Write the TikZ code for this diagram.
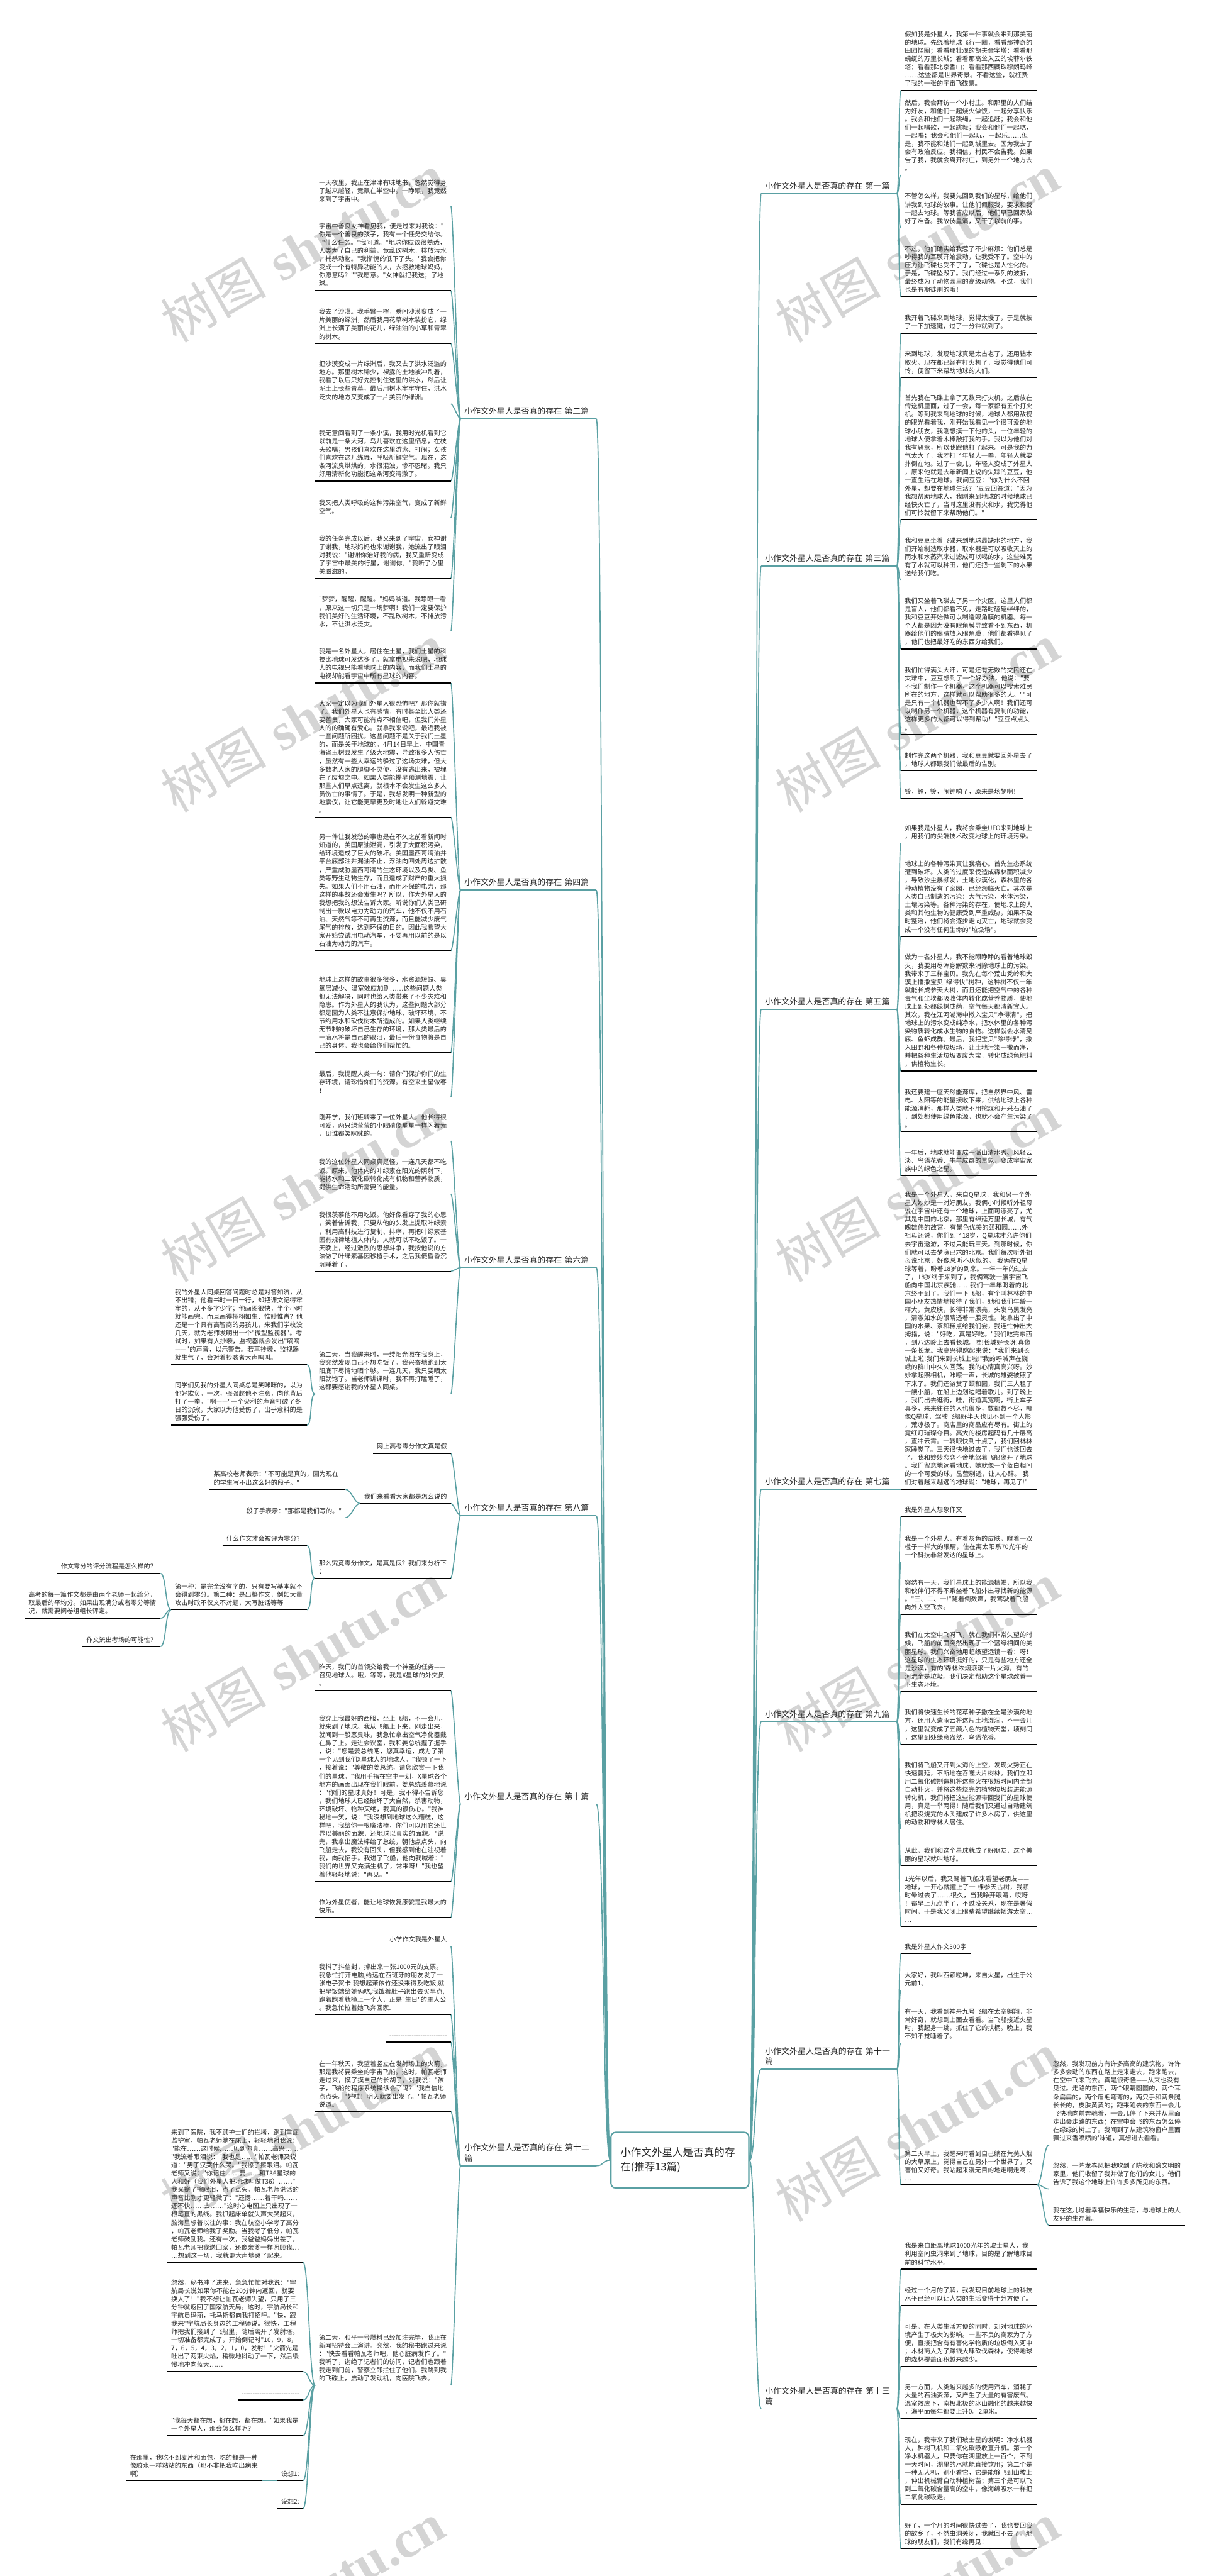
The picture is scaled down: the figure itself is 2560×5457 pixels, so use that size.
\documentclass[tikz,border=0pt]{standalone}
\usepackage{fontspec}
\newfontfamily\cjk{Noto Sans CJK SC}
\newfontfamily\wmfont{Liberation Serif}
\XeTeXinterchartokenstate=1
\newXeTeXintercharclass\hanclass
\newcount\hanpos
\hanpos="2E80
\loop
  \XeTeXcharclass\hanpos=\hanclass
  \ifnum\hanpos<"9FFF \advance\hanpos by 1
\repeat
\hanpos="FF00
\loop
  \XeTeXcharclass\hanpos=\hanclass
  \ifnum\hanpos<"FFEF \advance\hanpos by 1
\repeat
\XeTeXcharclass"2014=\hanclass
\XeTeXcharclass"2026=\hanclass
\XeTeXinterchartoks\hanclass\hanclass={\hskip0pt plus 0.2pt\relax}
\XeTeXinterchartoks 0 \hanclass={\hskip0pt plus 0.2pt\relax}
\XeTeXinterchartoks\hanclass 0 ={\hskip0pt plus 0.2pt\relax}
\definecolor{linkteal}{HTML}{5AA0A3}
\definecolor{inkgray}{HTML}{262626}
\newcommand{\leaffont}{\cjk\fontsize{6.75pt}{8.7pt}\selectfont}
\newcommand{\branchfont}{\cjk\fontsize{8.6pt}{11pt}\selectfont}
\newcommand{\hubfont}{\cjk\fontsize{11pt}{15pt}\selectfont}
\newcommand{\dashrow}{-{}-{}-{}-{}-{}-{}-{}-{}-{}-{}-{}-{}-{}-{}-{}-{}-{}-{}-{}-{}-{}-{}-{}-{}-{}-}
\tikzset{
  leaf/.style={anchor=south west, text width=135.5pt, align=left, inner xsep=4pt, inner ysep=4pt, font=\leaffont, text=inkgray},
  leafl/.style={leaf, anchor=south east},
  tag/.style={anchor=south west, align=left, inner xsep=4pt, inner ysep=4pt, font=\leaffont, text=inkgray},
  tagl/.style={tag, anchor=south east},
  branch/.style={anchor=south west, text width=135.5pt, align=left, inner xsep=4pt, inner ysep=4pt, font=\branchfont, text=inkgray},
  branchl/.style={branch, anchor=south east},
  hub/.style={draw=linkteal, line width=1.4pt, rounded corners=5pt, fill=white, text width=126pt, minimum height=59pt, align=left, inner xsep=10pt, font=\hubfont, text=inkgray},
  uline/.style={line width=0.9pt, black},
  bline/.style={line width=1.1pt, linkteal},
  link/.style={line width=1.1pt, linkteal},
  wmark/.style={rotate=30, text=black!17, font=\fontsize{56pt}{56pt}\selectfont}
}

\begin{document}
\begin{tikzpicture}[x=0.5pt,y=-0.5pt]
\useasboundingbox (0,0) rectangle (2560,5457);
\fill[white] (0,0) rectangle (2560,5457);
\foreach \wy in {525,1520,...,5500} {
  \node[wmark] at (641,\wy) {{\cjk 树图} {\wmfont\bfseries shutu.cn}};
  \node[wmark] at (1942,\wy) {{\cjk 树图} {\wmfont\bfseries shutu.cn}};
}

\node[hub] (hub) at (1440,4576) {小作文外星人是否真的存在(推荐13篇)};

\node[branch] (p1) at (1612,410) {小作文外星人是否真的存在 第一篇};
\node[leaf] (p1-1) at (1908,191.5) {假如我是外星人，我第一件事就会来到那美丽的地球。先绕着地球飞行一圈，看看那神奇的田园怪圈；看看那壮观的胡夫金字塔；看看那蜿蜒的万里长城；看看那高耸入云的埃菲尔铁塔；看看那北京香山；看看那西藏珠穆朗玛峰……这些都是世界奇景。不看这些，就枉费了我的一张的宇宙飞碟票。};
\node[leaf] (p1-2) at (1908,371) {然后，我会拜访一个小村庄。和那里的人们结为好友，和他们一起烧火做饭，一起分享快乐。我会和他们一起跳绳，一起追赶；我会和他们一起唱歌，一起跳舞；我会和他们一起吃，一起喝；我会和他们一起玩，一起乐……但是，我不能和她们一起到城里去。因为我去了会有政治反应。我相信，村民不会告我。如果告了我，我就会离开村庄，到另外一个地方去。};
\node[leaf] (p1-3) at (1908,483) {不管怎么样，我要先回到我们的星球，给他们讲我到地球的故事。让他们佩服我，要求和我一起去地球。等我答应以后，他们早已回家做好了准备。我故伎重演，又干了以前的事。};
\node[leaf] (p1-4) at (1908,628.5) {不过，他们确实给我惹了不少麻烦：他们总是吵得我的耳膜开始震动，让我受不了。空中的压力让飞碟也受不了了，飞碟也是人性化的。于是，飞碟坠毁了。我们经过一系列的波折，最终成为了动物园里的高级动物。不过，我们也是有期徒刑的哦！};

\node[branch] (p3) at (1612,1199) {小作文外星人是否真的存在 第三篇};
\node[leaf] (p3-1) at (1908,706) {我开着飞碟来到地球，觉得太慢了，于是就按了一下加速键，过了一分钟就到了。};
\node[leaf] (p3-2) at (1908,800) {来到地球，发现地球真是太古老了，还用钻木取火。现在都已经有打火机了，我觉得他们可怜，便留下来帮助地球的人们。};
\node[leaf] (p3-3) at (1908,1101.5) {首先我在飞碟上拿了无数只打火机，之后放在传送机里面，过了一会，每一家都有五个打火机。等到我来到地球的时候，地球人都用敌视的眼光看着我，刚开始我看见一个很可爱的地球小朋友，我刚想摸一下他的头，一位年轻的地球人便拿着木棒敲打我的手。我以为他们对我有恶意，所以我跟他打了起来。可是我的力气太大了，我才打了年轻人一拳，年轻人就要扑倒在地。过了一会儿，年轻人变成了外星人，原来他就是去年新闻上说的失踪的豆豆，他一直生活在地球。我问豆豆："你为什么不回外星，却要在地球生活？"豆豆回答道："因为我想帮助地球人，我刚来到地球的时候地球已经快灭亡了，当时这里没有火和水，我觉得他们可怜就留下来帮助他们。"};
\node[leaf] (p3-4) at (1908,1229) {我和豆豆坐着飞碟来到地球最缺水的地方，我们开始制造取水器，取水器是可以吸收天上的雨水和水蒸汽来过滤成可以喝的水，这些难民有了水就可以种田，他们还把一些剩下的水果送给我们吃。};
\node[leaf] (p3-5) at (1908,1375) {我们又坐着飞碟去了另一个灾区，这里人们都是盲人，他们都看不见，走路时磕磕绊绊的，我和豆豆开始做可以制造眼角膜的机器。每一个人都是因为没有眼角膜导致看不到东西，机器给他们的眼睛放入眼角膜，他们都看得见了，他们也把最好吃的东西分给我们。};
\node[leaf] (p3-6) at (1908,1556) {我们忙得满头大汗，可是还有无数的灾民还在灾难中，豆豆想到了一个好办法，他说："要不我们制作一个机器，这个机器可以搜索难民所在的地方，这样就可以帮助很多的人。""可是只有一个机器也帮不了多少人啊！我们还可以制作另一个机器，这个机器有复制的功能，这样更多的人都可以得到帮助！"豆豆点点头。};
\node[leaf] (p3-7) at (1908,1633) {制作完这两个机器，我和豆豆就要回外星去了，地球人都跟我们做最后的告别。};
\node[tag] (p3-8) at (1908,1692) {铃，铃，铃，闹钟响了，原来是场梦啊！};

\node[branch] (p5) at (1612,2138.5) {小作文外星人是否真的存在 第五篇};
\node[leaf] (p5-1) at (1908,1786) {如果我是外星人，我将会乘坐UFO来到地球上，用我们的尖端技术改变地球上的环境污染。};
\node[leaf] (p5-2) at (1908,1984) {地球上的各种污染真让我痛心。首先生态系统遭到破坏。人类的过度采伐造成森林面积减少，导致沙尘暴频发，土地沙漠化，森林里的各种动植物没有了家园，已经濒临灭亡。其次是人类自己制造的污染：大气污染，水体污染，土壤污染等。各种污染的存在，使地球上的人类和其他生物的健康受到严重威胁，如果不及时整治，他们将会逐步走向灭亡，地球就会变成一个没有任何生命的"垃圾场"。};
\node[leaf] (p5-3) at (1908,2269) {做为一名外星人，我不能眼睁睁的看着地球毁灭，我要用尽浑身解数来消除地球上的污染。我带来了三样宝贝。我先在每个荒山秃岭和大漠上播撒宝贝"绿得快"树种，这种树不仅一年就能长成参天大树，而且还能把空气中的各种毒气和尘埃都吸收体内转化成营养物质，使地球上到处都绿树成荫，空气每天都清新宜人。其次，我在江河湖海中撒入宝贝"净得清"，把地球上的污水变成纯净水，把水体里的各种污染物质转化成水生物的食物。这样就会水清见底、鱼虾成群。最后，我把宝贝"除得绿"，撒入田野和各种垃圾场，让土地污染一撒而净，并把各种生活垃圾变废为宝，转化成绿色肥料，供植物生长。};
\node[leaf] (p5-4) at (1908,2397) {我还要建一座天然能源库，把自然界中风、雷电、太阳等的能量接收下来，供给地球上各种能源消耗，那样人类就不用挖煤和开采石油了，到处都使用绿色能源，也就不会产生污染了。};
\node[leaf] (p5-5) at (1908,2491) {一年后，地球就能变成一派山清水秀、风轻云淡、鸟语花香、牛羊成群的景象，变成宇宙家族中的绿色之星。};

\node[branch] (p7) at (1612,3155) {小作文外星人是否真的存在 第七篇};
\node[leaf] (p7-1) at (1908,3155) {我是一个外星人，来自Q星球，我和另一个外星人妙妙是一对好朋友。我俩小时候听外祖母说在宇宙中还有一个地球，上面可漂亮了，尤其是中国的北京，那里有绵延万里长城，有气魄雄伟的故宫，有景色优美的颐和园……外祖母还说，你们到了18岁，Q星球才允许你们去宇宙遨游，不过只能玩三天。到那时候，你们就可以去梦寐已求的北京。我们每次听外祖母说北京，好像总听不厌似的。 我俩在Q星球等着，盼着18岁的到来。一年一年的过去了，18岁终于来到了，我俩驾驶一艘宇宙飞船向中国北京疾驰……我们一年年盼着的北京终于到了。我们一下飞船，有个叫林林的中国小朋友热情地接待了我们，她和我们年龄一样大，黄皮肤，长得非常漂亮，头发乌黑发亮，清澈如水的眼睛透着一股灵性。她拿出了中国的水果、茶和糕点给我们尝，我连忙伸出大拇指，说："好吃，真是好吃。"我们吃完东西，到八达岭上去看长城。哇!长城好长呀!真像一条长龙。我高兴得跳起来说："我们来到长城上啦!我们来到长城上啦!"我的呼喊声在巍峨的群山中久久回荡。我的心情真高兴呀。妙妙拿起照相机，咔嚓一声，长城的雄姿被照了下来了。我们还游赏了颐和园，我们三人租了一艘小船，在船上边划边唱着歌儿。到了晚上，我们出去逛街，哇，街道真宽啊，街上车子真多，来来往往的人也很多，数都数不尽，哪像Q星球，驾驶飞船好半天也见不到一个人影，荒凉极了。商店里的商品应有尽有。街上的霓红灯璀璨夺目。高大的楼房起码有几十层高，直冲云霄。一转眼快到十点了，我们回林林家睡觉了。三天很快地过去了，我们也该回去了。我和妙妙恋恋不舍地驾着飞船离开了地球。我们留恋地远看地球，她就像一个蓝白相间的一个可爱的球，晶莹剔透，让人心醉。 我们对着越来越远的地球说："地球，再见了!"};

\node[branch] (p9) at (1612,3647) {小作文外星人是否真的存在 第九篇};
\node[tag] (p9-1) at (1908,3213) {我是外星人想象作文};
\node[leaf] (p9-2) at (1908,3309) {我是一个外星人，有着灰色的皮肤，瞪着一双橙子一样大的眼睛，住在离太阳系70光年的一个科技非常发达的星球上。};
\node[leaf] (p9-3) at (1908,3420) {突然有一天，我们星球上的能源枯竭，所以我和伙伴们不得不乘坐着飞船外出寻找新的能源。"三、二、一!"随着倒数声，我驾驶着飞船向外太空飞去。};
\node[leaf] (p9-4) at (1908,3583) {我们在太空中飞呀飞，就在我们非常失望的时候，飞船的前面突然出现了一个蓝绿相间的美丽星球。我们兴奋地用超级望远镜一看：呀！这星球的生态环境挺好的，只是有些地方还全是沙漠，有的'森林浓烟滚滚一片火海，有的河流全是垃圾。我们决定帮助这个星球改善一下生态环境。};
\node[leaf] (p9-5) at (1908,3695) {我们将快速生长的花草种子撒在全是沙漠的地方，还用人造雨云将这片土地湿润。不一会儿，这里就变成了五颜六色的植物天堂，顷刻间，这里到处绿意盎然，鸟语花香。};
\node[leaf] (p9-6) at (1908,3875) {我们将飞船又开到火海的上空，发现火势正在快速蔓延，不断地在吞噬大片树林。我们立即用二氧化碳制造机将这些火在很短时间内全部自动扑灭，并将这些烧完的植物垃圾装进能源转化机，我们将把这些能源带回我们的星球使用，真是一举两得！随后我们又通过自动建筑机把没烧完的木头建成了许多木房子，供这里的动物和守林人居住。};
\node[leaf] (p9-7) at (1908,3952) {从此，我们和这个星球就成了好朋友，这个美丽的星球就叫地球。};
\node[leaf] (p9-8) at (1908,4081) {1光年以后，我又驾着飞船来看望老朋友——地球，一开心就撞上了一 棵参天古树，我顿时晕过去了……很久，当我睁开眼睛，哎呀！都早上九点半了，不过没关系，现在是暑假时间，于是我又闭上眼睛希望继续畅游太空……};

\node[branch] (p11) at (1612,4383.5) {小作文外星人是否真的存在 第十一篇};
\node[tag] (p11-1) at (1908,4139) {我是外星人作文300字};
\node[leaf] (p11-2) at (1908,4216) {大家好，我叫西颖粒坤，来自火星，出生于公元前1。};
\node[leaf] (p11-3) at (1908,4328) {有一天，我看到神舟九号飞船在太空翱翔，非常好奇，就想到上面去看看。当飞船接近火星时，我起身一跳，抓住了它的扶柄。晚上，我不知不觉睡着了。};
\node[leaf] (p11-4) at (1908,4628) {第二天早上，我醒来时看到自己躺在荒芜人烟的大草原上，觉得自己在另外一个世界了，又害怕又好奇。我站起来漫无目的地走啊走啊……};
\node[leaf] (p11-4a) at (2222,4544) {忽然，我发现前方有许多高高的建筑物，许许多多会动的东西在路上走来走去，跑来跑去，在空中飞来飞去。真是很奇怪——从来也没有见过。走路的东西，两个眼睛圆圆的，两个耳朵扁扁的，两个眉毛弯弯的，两只手和两条腿长长的，皮肤黄黄的；跑来跑去的东西一会儿飞快地向前奔驰着，一会儿停了下来并从里面走出会走路的东西；在空中会飞的东西怎么停在绿绿的树上了。我闻到了从建筑物窗户里面飘过来香喷喷的'味道，真想进去看看。};
\node[leaf] (p11-4b) at (2222,4637) {忽然，一阵龙卷风把我吹到了陈秋和盛文明的家里，他们收留了我并做了他们的女儿。他们告诉了我这个地球上许许多多所见的东西。};
\node[leaf] (p11-4c) at (2222,4714) {我在这儿过着幸福快乐的生活，与地球上的人友好的生存着。};

\node[branch] (p13) at (1612,5103) {小作文外星人是否真的存在 第十三篇};
\node[leaf] (p13-1) at (1908,4807) {我是来自距离地球1000光年的玻士星人，我利用空间虫洞来到了地球，目的是了解地球目前的科学水平。};
\node[leaf] (p13-2) at (1908,4884) {经过一个月的了解，我发现目前地球上的科技水平已经可以让人类的生活变得十分方便了。};
\node[leaf] (p13-3) at (1908,5013) {可是，在人类生活方便的同时，却对地球的环境产生了极大的影响。一些不良的商家为了方便，直接把含有有害化学物质的垃圾倒入河中；木材商人为了赚钱大肆砍伐森林，使得地球的森林覆盖面积越来越少。};
\node[leaf] (p13-4) at (1908,5124) {另一方面，人类越来越多的使用汽车，消耗了大量的石油资源，又产生了大量的有害废气。温室效应下，南极北极的冰山融化的越来越快，海平面每年都要上升0。2厘米。};
\node[leaf] (p13-5) at (1908,5305) {现在，我带来了我们玻士星的发明：净水机器人，种树飞机和二氧化碳吸收直升机。第一个净水机器人，只要你在湖里放上一百个，不到一天时间，湖里的水就能直接饮用；第二个是一种无人机，别小看它，它是能够飞到山坡上，伸出机械臂自动种植树苗；第三个是可以飞到二氧化碳含量高的空中，像海绵吸水一样把二氧化碳吸走。};
\node[leaf] (p13-6) at (1908,5399) {好了，一个月的时间很快过去了，我也要回我的故乡了，不然虫洞关闭，我就回不去了。地球的朋友们，我们有缘再见！};

\node[branchl] (p2) at (1263,887) {小作文外星人是否真的存在 第二篇};
\node[leafl] (p2-1) at (955,436.5) {一天夜里，我正在津津有味地书，忽然觉得身子越来越轻，竟飘在半空中。一睁眼，我竟然来到了宇宙中。};
\node[leafl] (p2-2) at (955,615.6) {宇宙中善良女神看见我，便走过来对我说："你是一个善良的孩子，我有一个任务交给你。""什么任务。"我问道。"地球你应该很熟悉，人类为了自己的利益，竟乱砍树木，排放污水，捕杀动物。"我惭愧的低下了头。"我会把你变成一个有特异功能的人，去拯救地球妈妈，你愿意吗？""我愿意。"女神就把我送；了地球。};
\node[leafl] (p2-3) at (955,727.6) {我去了沙漠。我手臂一挥，瞬间沙漠变成了一片美丽的绿洲，然后我用花草树木装扮它，绿洲上长满了美丽的花儿，绿油油的小草和青翠的树木。};
\node[leafl] (p2-4) at (955,855.6) {把沙漠变成一片绿洲后，我又去了洪水泛滥的地方。那里树木稀少，裸露的土地被冲刷着，我看了以后只好先控制住这里的洪水，然后让泥土上长些青草，最后用树木牢牢守住，洪水泛灾的地方又变成了一片美丽的绿洲。};
\node[leafl] (p2-5) at (955,1019) {我无意间看到了一条小溪，我用时光机看到它以前是一条大河，鸟儿喜欢在这里栖息，在枝头歌唱；男孩们喜欢在这里游泳、打闹；女孩们喜欢在这儿练舞，呼吸新鲜空气。现在，这条河流臭烘烘的，水很混浊，惨不忍睹。我只好用清新化功能把这条河变清澈了。};
\node[leafl] (p2-6) at (955,1097) {我又把人类呼吸的这种污染空气，变成了新鲜空气。};
\node[leafl] (p2-7) at (955,1225) {我的任务完成以后，我又来到了宇宙，女神谢了谢我，地球妈妈也来谢谢我，她流出了眼泪对我说："谢谢你治好我的病，我又重新变成了宇宙中最美的行星，谢谢你。"我听了心里美滋滋的。};
\node[leafl] (p2-8) at (955,1337) {"梦梦，醒醒，醒醒。"妈妈喊道。我睁眼一看，原来这一切只是一场梦啊！我们一定要保护我们美好的生活环境，不乱砍树木，不排放污水，不让洪水泛灾。};

\node[branchl] (p4) at (1263,1885.5) {小作文外星人是否真的存在 第四篇};
\node[leafl] (p4-1) at (955,1447) {我是一名外星人，居住在土星，我们土星的科技比地球可发达多了。就拿电视来说吧，地球人的电视只能看地球上的内容，而我们土星的电视却能看宇宙中所有星球的内容。};
\node[leafl] (p4-2) at (955,1731) {大家一定以为我们外星人很恐怖吧？那你就错了。我们外星人也有感情，有时甚至比人类还要善良，大家可能有点不相信吧，但我们外星人的的确确有爱心。就拿我来说吧，最近我被一些问题所困扰，这些问题不是关于我们土星的，而是关于地球的。4月14日早上，中国青海省玉树县发生了级大地震，导致很多人伤亡，虽然有一些人幸运的躲过了这场灾难，但大多数老人家的腿脚不灵便，没有逃出来，被埋在了废墟之中。如果人类能提早预测地震，让那些人们早点逃离，就根本不会发生这么多人员伤亡的事情了。于是，我想发明一种新型的地震仪，让它能更早更及时地让人们躲避灾难。};
\node[leafl] (p4-3) at (955,2014) {另一件让我发愁的事也是在不久之前看新闻时知道的，美国原油泄漏，引发了大面积污染，给环境造成了巨大的破坏。美国墨西哥湾油井平台底部油井漏油不止，浮油向四处周边扩散，严重威胁墨西哥湾的生态环境以及鸟类、鱼类等野生动物生存，而且造成了财产的重大损失。如果人们不用石油，而用环保的电力，那这样的事故还会发生吗？所以，作为外星人的我想把我的想法告诉大家。听说你们人类已研制出一款以电力为动力的汽车，他不仅不用石油、天然气等不可再生资源，而且能减少废气尾气的排放，达到环保的目的。因此我希望大家开始尝试用电动汽车，不要再用以前的是以石油为动力的汽车。};
\node[leafl] (p4-4) at (955,2230) {地球上这样的故事很多很多，水资源短缺、臭氧层减少、温室效应加剧……这些问题人类都无法解决，同时也给人类带来了不少灾难和隐患。作为外星人的我认为，这些问题大部分都是因为人类不注意保护地球、破坏环境、不节约用水和砍伐树木所造成的。如果人类继续无节制的破坏自己生存的环境，那人类最后的一滴水将是自己的眼泪，最后一份食物将是自己的身体，我也会给你们帮忙的。};
\node[leafl] (p4-5) at (955,2324) {最后，我提醒人类一句：请你们保护你们的生存环境，请珍惜你们的资源。有空来土星做客！};

\node[branchl] (p6) at (1263,2685) {小作文外星人是否真的存在 第六篇};
\node[leafl] (p6-1) at (955,2417) {刚开学，我们班转来了一位外星人，他长得很可爱，两只绿莹莹的小眼睛像星星一样闪着光，见谁都笑眯眯的。};
\node[leafl] (p6-2) at (955,2529) {我的这位外星人同桌真是怪，一连几天都不吃饭。原来，他体内的叶绿素在阳光的照射下，能将水和二氧化碳转化成有机物和营养物质，提供生命活动所需要的能量。};
\node[leafl] (p6-3) at (955,2693) {我很羡慕他不用吃饭。他好像看穿了我的心思，笑着告诉我，只要从他的头发上提取叶绿素，利用高科技进行复制、排序，再把叶绿素基因有规律地植人体内，人就可以不吃饭了。一天晚上，经过激烈的思想斗争，我按他说的方法做了叶绿素基因移植手术，之后我便昏昏沉沉睡着了。};
\node[leafl] (p6-4) at (955,2953) {第二天，当我醒来时，一缕阳光照在我身上，我突然发现自己不想吃饭了。我兴奋地跑到太阳底下尽情地晒个够。一连几天，我只要晒太阳就饱了。当老师讲课时，我不再打瞌睡了，这都要感谢我的外星人同桌。};
\node[leafl] (p6-4a) at (650,2891) {我的外星人同桌回答问题时总是对答如流，从不出错；他看书时一日十行，却把课文记得牢牢的，从不多字少字；他画图很快，半个小时就能画完，而且画得栩栩如生、惟妙惟肖？他还是一个具有高智商的男孩儿，来我们学校没几天，就为老师发明出一个"微型监视器"。考试时，如果有人抄袭，监视器就会发出"嘀嘀——"的声音，以示警告。若再抄袭，监视器就生气了，会对着抄袭者大声鸣叫。};
\node[leafl] (p6-4b) at (650,3019) {同学们见我的外星人同桌总是笑眯眯的，以为他好欺负。一次，强强趁他不注意，向他背后打了一拳。"啊——"一个尖利的声音打破了冬日的沉寂，大家以为他受伤了，出乎意料的是强强受伤了。};

\node[branchl] (p8) at (1263,3211) {小作文外星人是否真的存在 第八篇};
\node[tagl] (p8-1) at (955,3079) {网上高考零分作文真是假};
\node[tagl] (p8-2) at (955,3185) {我们来看看大家都是怎么说的};
\node[leafl] (p8-2a) at (732,3155) {某高校老师表示："不可能是真的，因为现在的学生写不出这么好的段子。"};
\node[tagl] (p8-2b) at (732,3215) {段子手表示："那都是我们写的。"};
\node[leafl] (p8-3) at (955,3343) {那么究竟零分作文，是真是假？我们来分析下：};
\node[tagl] (p8-3a) at (650,3274) {什么作文才会被评为零分？};
\node[leafl] (p8-3b) at (650,3410) {第一种：是完全没有字的，只有要写基本就不会得到零分。第二种：是出格作文，例如大量攻击时政不仅文不对题，大写脏话等等};
\node[tagl] (p8-3b1) at (340,3333) {作文零分的评分流程是怎么样的？};
\node[leafl] (p8-3b2) at (340,3428) {高考的每一篇作文都是由两个老师一起给分，取最后的平均分。如果出现满分或者零分等情况，就需要阅卷组组长评定。};
\node[tagl] (p8-3b3) at (340,3488) {作文流出考场的可能性？};

\node[branchl] (p10) at (1263,3821.5) {小作文外星人是否真的存在 第十篇};
\node[leafl] (p10-1) at (955,3581) {昨天，我们的首领交给我一个神圣的任务——召见地球人。哦，等等，我是X星球的外交员。};
\node[leafl] (p10-2) at (955,3986) {我穿上我最好的西服，坐上飞船，不一会儿，就来到了地球。我从飞船上下来，刚走出来，就闻到一股恶臭味，我急忙拿出空气净化器戴在鼻子上。走进会议室，我和姜总统握了握手，说："您是姜总统吧，您真幸运，成为了第一个见到我们X星球人的地球人。"我顿了一下，接着说："尊敬的姜总统，请您欣赏一下我们的星球。"我用手指在空中一划，X星球各个地方的画面出现在我们眼前。姜总统羡慕地说："你们的星球真好！可是，我不得不告诉您，我们地球人已经破坏了大自然，杀害动物，环境破坏、物种灭绝，我真的很伤心。"我神秘地一笑，说："我没想到地球这么糟糕，这样吧，我给你一根魔法棒，你们可以用它还世界以美丽的面貌，还地球以真实的面貌。"说完，我拿出魔法棒给了总统，朝他点点头，向飞船走去，我没有回头，但我感到他在注视着我，向我招手。我进了飞船，他向我喊着："我们的世界又充满生机了，常来呀！"我也望着他轻轻地说："再见。"};
\node[leafl] (p10-3) at (955,4062) {作为外星使者，能让地球恢复原貌是我最大的快乐。};

\node[branchl] (p12) at (1263,4588) {小作文外星人是否真的存在 第十二篇};
\node[tagl] (p12-1) at (955,4123) {小学作文我是外星人};
\node[leafl] (p12-2) at (955,4268) {我抖了抖信封，掉出来一张1000元的支票。我急忙打开电脑,给远在西班牙的朋友发了一张电子贺卡.我想起萧依竹还没来得及吃饭,就把早饭端给她俩吃,我饿着肚子跑出去买早点,跑着跑着就撞上一个人，正是"生日"的主人公。我急忙拉着她飞奔回家.};
\node[tagl] (p12-3) at (955,4326) {\dashrow};
\node[leafl] (p12-4) at (955,4473) {在一年秋天，我望着竖立在发射场上的火箭，那是我将要乘坐的宇宙飞船。这时，帕瓦老师走过来，摸了摸自己的长胡子，对我说："孩子，飞船的程序系统操纵会了吗？"我自信地点点头。"好哇！明天就要出发了。"帕瓦老师说道。};
\node[leafl] (p12-5) at (955,5053) {第二天，和平一号燃料已经加注完毕，我正在新闻招待会上演讲。突然，我的秘书跑过来说："快去看看帕瓦老师吧，他心脏病发作了。"我听了，谢绝了记者们的访问，记者们也跟着我走到门前，警察立即拦住了他们。我跳到我的飞碟上，启动了发动机，向医院飞去。};
\node[leafl] (p12-5a) at (642,4793) {来到了医院，我不顾护士们的拦堵，跑到重症监护室，帕瓦老师躺在床上，轻轻地对我说："能在……这时候……见到你真……高兴……"我流着眼泪说："我也是……"帕瓦老师又说道："男子汉哭什么哭。"我擦了擦眼泪。帕瓦老师又说："你记住……要……和T36星球的人和好（我们外星人把地球叫做T36）……"我又擦了擦眼泪，点了点头。帕瓦老师说话的声音比刚才更轻微了："还愣……着干吗……还不快……去……"这时心电图上只出现了一根笔直的黑线。我抓起床单就失声大哭起来，脑海里想着以往的事：我在航空小学考了高分，帕瓦老师给我了奖励。当我考了低分，帕瓦老师鼓励我。还有一次，我爸爸妈妈出差了，帕瓦老师把我送回家，还像亲爹一样照顾我……想到这一切，我就更大声地哭了起来。};
\node[leafl] (p12-5b) at (642,5024) {忽然，秘书冲了进来，急急忙忙对我说："宇航局长说如果你不能在20分钟内返回，就要换人了！"我不想让帕瓦老师失望，只用了三分钟就返回了国家航天局。这时，宇航局长和宇航员玛丽，托马斯都向我打招呼。"快，跟我来"宇航局长身边的工程师说。很快，工程师把我们接到了飞船里，随后离开了发射塔。一切准备都完成了，开始倒记时"10，9，8，7，6，5，4，3，2，1，0，发射！"火箭先是吐出了两束火焰，稍微地抖动了一下，然后缓慢地冲向蓝天……};
\node[tagl] (p12-5c) at (642,5084) {\dashrow};
\node[leafl] (p12-5d) at (642,5160) {"我每天都在想，都在想，都在想。"如果我是一个外星人，那会怎么样呢？};
\node[tagl] (p12-5e) at (642,5255) {设想1:};
\node[tagl] (p12-5f) at (642,5314) {设想2:};
\node[leafl] (p12-5e1) at (555,5255) {在那里，我吃不到麦片和面包，吃的都是一种像胶水一样粘粘的东西（那不非把我吃出病来啊）};

\foreach \b in {p1,p3,p5,p7,p9,p11,p13}
  \draw[link] (hub.east) .. controls +(13,0) and +(-13,0) .. (\b.south west);
\foreach \b in {p2,p4,p6,p8,p10,p12}
  \draw[link] (hub.west) .. controls +(-16,0) and +(16,0) .. (\b.south east);
\foreach \b in {p1,p2,p3,p4,p5,p6,p7,p8,p9,p10,p11,p12,p13}
  \draw[bline] (\b.south west) -- (\b.south east);

\foreach \b/\k in {p1/4,p3/8,p5/5,p7/1,p9/8,p11/4,p13/6}
  \foreach \i in {1,...,\k} {
    \draw[link] (\b.south east) .. controls +(5,0) and +(-5,0) .. (\b-\i.south west);
    \draw[uline] (\b-\i.south west) -- (\b-\i.south east);
  }
\foreach \b/\k in {p2/8,p4/5,p6/4,p8/3,p10/3,p12/5}
  \foreach \i in {1,...,\k} {
    \draw[link] (\b.south west) .. controls +(-5,0) and +(5,0) .. (\b-\i.south east);
    \draw[uline] (\b-\i.south west) -- (\b-\i.south east);
  }

\foreach \c in {p11-4a,p11-4b,p11-4c} {
  \draw[link] (p11-4.south east) .. controls +(13,0) and +(-13,0) .. (\c.south west);
  \draw[uline] (\c.south west) -- (\c.south east);
}
\foreach \p/\c in {p6-4/p6-4a,p6-4/p6-4b,p8-2/p8-2a,p8-2/p8-2b,p8-3/p8-3a,p8-3/p8-3b,p8-3b/p8-3b1,p8-3b/p8-3b2,p8-3b/p8-3b3,p12-5/p12-5a,p12-5/p12-5b,p12-5/p12-5c,p12-5/p12-5d,p12-5/p12-5e,p12-5/p12-5f} {
  \draw[link] (\p.south west) .. controls +(-12,0) and +(12,0) .. (\c.south east);
  \draw[uline] (\c.south west) -- (\c.south east);
}
\draw[uline] (p12-5e1.south west) -- (p12-5e1.south east);
\draw[link] (p12-5e.south west) -- (p12-5e1.south east);
\end{tikzpicture}
\end{document}
